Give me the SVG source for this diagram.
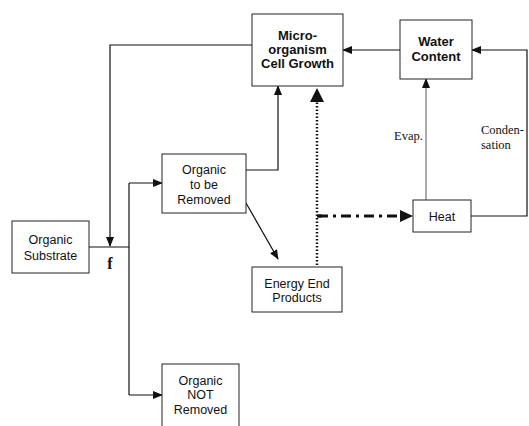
<svg xmlns="http://www.w3.org/2000/svg" width="529" height="426" viewBox="0 0 529 426">
<defs>
<style>
.box{fill:#fff;stroke:#222;stroke-width:1}
.t{font-family:"Liberation Sans",Arial,sans-serif;font-size:12.5px;fill:#111;text-anchor:middle}
.b{font-weight:bold;font-size:13px}
.s{font-family:"Liberation Serif","Times New Roman",serif;font-size:12.5px;fill:#111}
.ln{fill:none;stroke:#111;stroke-width:1.2}
.thin{fill:none;stroke:#555;stroke-width:1}
.dot{fill:none;stroke:#111;stroke-width:2.5;stroke-dasharray:1.5 2}
.dd{fill:none;stroke:#111;stroke-width:3;stroke-dasharray:10 5 3 5}
</style>
<marker id="ah" markerWidth="10" markerHeight="8" refX="9" refY="4" orient="auto" markerUnits="userSpaceOnUse">
<path d="M0,0 L10,4 L0,8 Z" fill="#111"/>
</marker>
</defs>
<rect width="529" height="426" fill="#fff"/>
<g id="connectors">
<path class="ln" d="M400,50 H343" marker-end="url(#ah)"/>
<path class="ln" d="M471,216 H527 V50 H472" marker-end="url(#ah)"/>
<path class="thin" d="M426,200 V79" marker-end="url(#ah)"/>
<path class="ln" d="M252,45 H110 V246" marker-end="url(#ah)"/>
<path class="ln" d="M89,247 H129"/>
<path class="ln" d="M129,183 V395"/>
<path class="ln" d="M129,183 H162" marker-end="url(#ah)"/>
<path class="ln" d="M129,395 H162" marker-end="url(#ah)"/>
<path class="ln" d="M246,170 H278 V86" marker-end="url(#ah)"/>
<path class="ln" d="M246,203 L278,259" marker-end="url(#ah)"/>
<path class="dot" d="M317,265 V100"/>
<path d="M310,102 L317,88 L324,102 Z" fill="#111"/>
<path class="dd" d="M318,216 H400"/>
<path d="M400,210 L413,216 L400,222 Z" fill="#111"/>
<path d="M317,216 H322" stroke="#111" stroke-width="3"/>
</g>
<g id="micro">
<rect class="box" x="252" y="14" width="91" height="72"/>
<text class="t b" x="297.5" y="40">Micro-</text>
<text class="t b" x="297.5" y="54">organism</text>
<text class="t b" x="297.5" y="68">Cell Growth</text>
</g>
<g id="water">
<rect class="box" x="400" y="20" width="72" height="59"/>
<text class="t b" x="436" y="46">Water</text>
<text class="t b" x="436" y="61">Content</text>
</g>
<g id="heat">
<rect class="box" x="413" y="200" width="58" height="32"/>
<text class="t" x="442" y="221">Heat</text>
</g>
<g id="substrate">
<rect class="box" x="12" y="221" width="77" height="52"/>
<text class="t" x="50.5" y="244">Organic</text>
<text class="t" x="50.5" y="260">Substrate</text>
</g>
<g id="toberemoved">
<rect class="box" x="162" y="154" width="84" height="59"/>
<text class="t" x="204" y="174">Organic</text>
<text class="t" x="204" y="189">to be</text>
<text class="t" x="204" y="204">Removed</text>
</g>
<g id="energy">
<rect class="box" x="252" y="267" width="90" height="45"/>
<text class="t" x="297" y="288">Energy End</text>
<text class="t" x="297" y="302">Products</text>
</g>
<g id="notremoved">
<rect class="box" x="162" y="364" width="77" height="64"/>
<text class="t" x="200.5" y="385">Organic</text>
<text class="t" x="200.5" y="399">NOT</text>
<text class="t" x="200.5" y="414">Removed</text>
</g>
<g id="labels">
<text x="110" y="269" font-family="'Liberation Serif','Times New Roman',serif" font-size="16" font-weight="bold" text-anchor="middle" fill="#111">f</text>
<text class="s" x="394" y="140">Evap.</text>
<text class="s" x="481" y="134" textLength="43">Conden-</text>
<text class="s" x="481" y="149">sation</text>
</g>
</svg>
